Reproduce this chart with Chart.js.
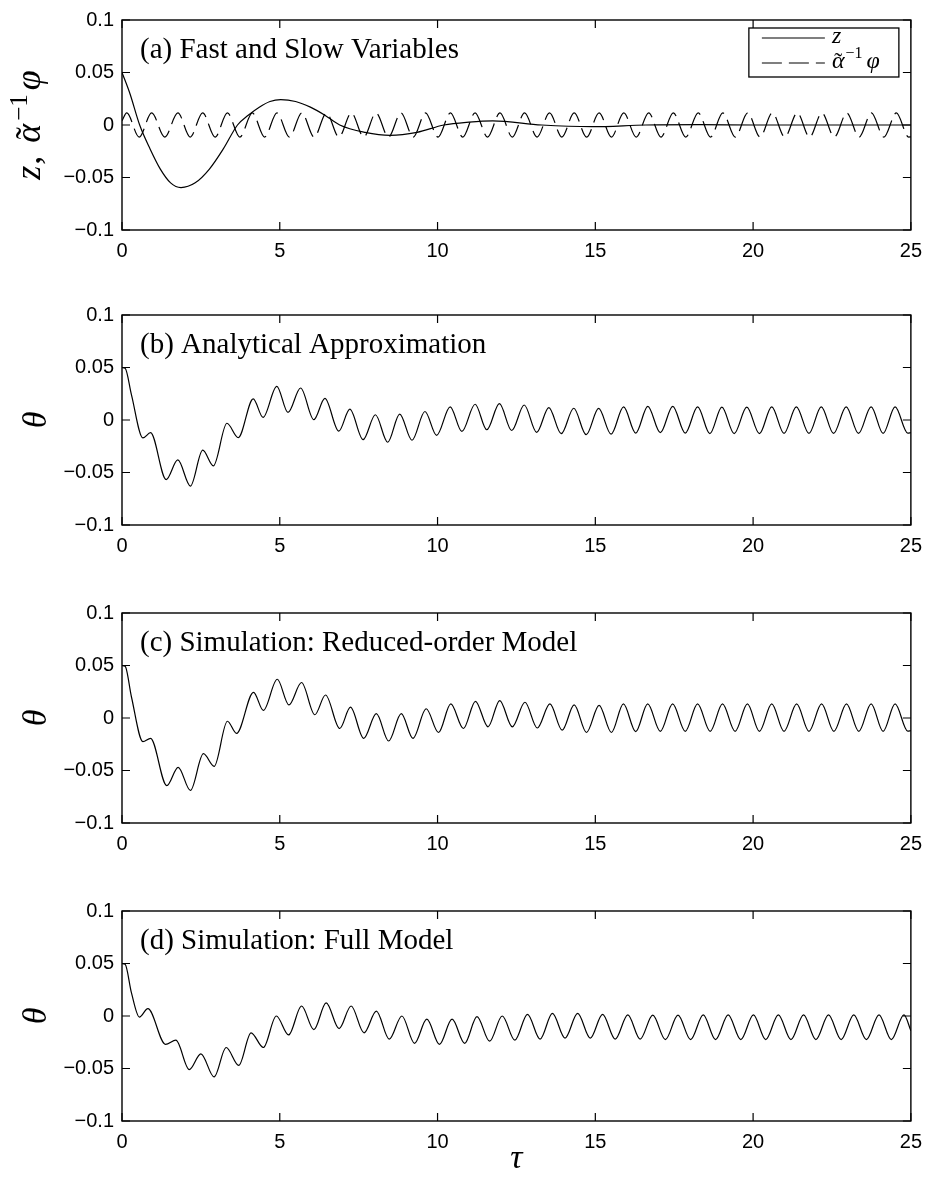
<!DOCTYPE html>
<html>
<head>
<meta charset="utf-8">
<title>Fast and slow variables</title>
<script src="https://cdn.jsdelivr.net/npm/chart.js@4.4.1/dist/chart.umd.min.js"></script>
<style>
  html, body { margin: 0; padding: 0; background: #fff; }
  #fig { position: relative; width: 931px; height: 1179px; overflow: hidden; }
  #fig canvas { position: absolute; left: 0; }
</style>
</head>
<body>
<div id="fig">
  <canvas id="panelA" width="931" height="290" style="top:0px"></canvas>
  <canvas id="panelB" width="931" height="290" style="top:295px"></canvas>
  <canvas id="panelC" width="931" height="290" style="top:593px"></canvas>
  <canvas id="panelD" width="931" height="288" style="top:891px"></canvas>
</div>
<script>
// axes
const xTicks = [0, 5, 10, 15, 20, 25];
const yTicks = [-0.1, -0.05, 0, 0.05, 0.1];
const yTickLabels = ['\u22120.1', '\u22120.05', '0', '0.05', '0.1'];
const panelTitles = [
    '(a) Fast and Slow Variables',
    '(b) Analytical Approximation',
    '(c) Simulation: Reduced-order Model',
    '(d) Simulation: Full Model'
];

// (a) slow variable z  [tau, value]
const slowZ = [
    [0, 0.05], [0.25, 0.03], [0.56, 0], [0.89, -0.0228], [1.215, -0.042], [1.54, -0.0551],
    [1.87, -0.0596], [2.32, -0.0551], [2.77, -0.042], [3.21, -0.0228], [3.66, 0],
    [4.0, 0.0093], [4.35, 0.017], [4.69, 0.0224], [5.03, 0.0242], [5.5, 0.0224],
    [5.97, 0.017], [6.43, 0.0093], [6.9, 0], [7.7, -0.007], [8.5, -0.0099], [9.35, -0.007],
    [10.2, 0], [11.0, 0.0028], [11.75, 0.004], [13.3, 0], [14.9, -0.0016], [16.6, 0],
    [18.3, 0.0004], [20, 0], [25, 0]
];

// (a) fast variable, scaled  [tau, value] (peaks and troughs)
const fastPhi = [
    [0, 0.004],
    [0.15, 0.0115], [0.545, -0.0115], [0.94, 0.0115], [1.355, -0.0115],
    [1.77, 0.0115], [2.16, -0.0115], [2.555, 0.0115], [2.95, -0.0115],
    [3.34, 0.0115], [3.735, -0.0115], [4.13, 0.0115], [4.52, -0.0115],
    [4.91, 0.0115], [5.305, -0.0115], [5.70, 0.0115], [6.09, -0.0115],
    [6.48, 0.0115], [6.875, -0.0115], [7.27, 0.0115], [7.66, -0.0115],
    [8.05, 0.0115], [8.445, -0.0115], [8.84, 0.0115], [9.23, -0.0115],
    [9.62, 0.0115], [10.015, -0.0115], [10.41, 0.0115], [10.8, -0.0115],
    [11.19, 0.0115], [11.585, -0.0115], [11.98, 0.0115], [12.37, -0.0115],
    [12.76, 0.0115], [13.155, -0.0115], [13.55, 0.0115], [13.94, -0.0115],
    [14.33, 0.0115], [14.725, -0.0115], [15.12, 0.0115], [15.51, -0.0115],
    [15.90, 0.0115], [16.295, -0.0115], [16.69, 0.0115], [17.08, -0.0115],
    [17.47, 0.0115], [17.865, -0.0115], [18.26, 0.0115], [18.65, -0.0115],
    [19.04, 0.0115], [19.435, -0.0115], [19.83, 0.0115], [20.22, -0.0115],
    [20.61, 0.0115], [21.005, -0.0115], [21.40, 0.0115], [21.79, -0.0115],
    [22.18, 0.0115], [22.575, -0.0115], [22.97, 0.0115], [23.36, -0.0115],
    [23.75, 0.0115], [24.145, -0.0115], [24.54, 0.0115], [24.93, -0.0115],
    [25, -0.0113]
];

// (b) analytical approximation of theta
const thetaAnalytical = [
    [0, 0.05], [0.1, 0.0493], [0.3, 0.024], [0.663, -0.0171], [0.905, -0.0121],
    [1.4, -0.0567], [1.768, -0.038], [2.168, -0.0629], [2.558, -0.0287], [2.895, -0.0436],
    [3.326, -0.0031], [3.684, -0.0168], [4.158, 0.0202], [4.47, 0.0025], [4.905, 0.0321],
    [5.26, 0.0072], [5.66, 0.0305], [6.08, 0.0003], [6.43, 0.0206], [6.87, -0.0106],
    [7.22, 0.0103], [7.64, -0.0187], [8.03, 0.005], [8.42, -0.0212], [8.8, 0.0056],
    [9.19, -0.0193], [9.6, 0.0081], [9.97, -0.0146], [10.4, 0.0125], [10.77, -0.0109],
    [11.19, 0.015], [11.56, -0.0093], [11.96, 0.0156], [12.35, -0.01], [12.747, 0.0143],
    [13.14, -0.0118], [13.526, 0.0118], [13.92, -0.013], [14.316, 0.0112], [14.71, -0.014],
    [15.105, 0.011], [15.5, -0.0135], [15.895, 0.0125], [16.28, -0.0125], [16.663, 0.013],
    [17.06, -0.012], [17.453, 0.013], [17.85, -0.0125], [18.242, 0.0125], [18.63, -0.013],
    [19.01, 0.0122], [19.4, -0.013], [19.8, 0.0122], [20.2, -0.013], [20.59, 0.0125],
    [20.98, -0.0128], [21.37, 0.0125], [21.77, -0.0128], [22.16, 0.0125], [22.55, -0.0128],
    [22.95, 0.0125], [23.34, -0.0128], [23.74, 0.0125], [24.12, -0.0128], [24.5, 0.0125],
    [24.9, -0.0125], [25, -0.012]
];

// (c) reduced-order model simulation
const thetaReduced = [
    [0, 0.05], [0.1, 0.0492], [0.3, 0.02], [0.663, -0.0225], [0.905, -0.0194],
    [1.42, -0.0644], [1.78, -0.047], [2.168, -0.069], [2.58, -0.034], [2.92, -0.046],
    [3.34, -0.0031], [3.63, -0.0147], [4.168, 0.0244], [4.48, 0.0072], [4.92, 0.0369],
    [5.29, 0.0125], [5.69, 0.0338], [6.11, 0.0031], [6.45, 0.0219], [6.9, -0.01],
    [7.24, 0.0103], [7.66, -0.0194], [8.06, 0.0041], [8.45, -0.0219], [8.85, 0.0041],
    [9.22, -0.0194], [9.64, 0.0088], [10.03, -0.0138], [10.42, 0.0134], [10.82, -0.01],
    [11.2, 0.0159], [11.6, -0.0084], [11.97, 0.0166], [12.37, -0.0084], [12.77, 0.015],
    [13.16, -0.0095], [13.56, 0.0134], [13.95, -0.0116], [14.33, 0.0125], [14.72, -0.0138],
    [15.12, 0.012], [15.51, -0.0138], [15.89, 0.0134], [16.28, -0.013], [16.66, 0.0134],
    [17.06, -0.0128], [17.45, 0.0134], [17.85, -0.0128], [18.24, 0.0134], [18.64, -0.0128],
    [19.03, 0.0134], [19.43, -0.0128], [19.82, 0.0134], [20.2, -0.0128], [20.59, 0.0134],
    [20.98, -0.0128], [21.38, 0.0134], [21.77, -0.0128], [22.17, 0.0134], [22.56, -0.0128],
    [22.96, 0.0134], [23.35, -0.0128], [23.74, 0.0134], [24.12, -0.0128], [24.5, 0.0134],
    [24.9, -0.0125], [25, -0.012]
];

// (d) full model simulation
const thetaFull = [
    [0, 0.05], [0.1, 0.0492], [0.3, 0.022], [0.55, -0.001], [0.82, 0.007],
    [1.38, -0.027], [1.71, -0.023], [2.13, -0.051], [2.5, -0.036], [2.92, -0.058],
    [3.3, -0.03], [3.7, -0.047], [4.09, -0.016], [4.48, -0.03], [4.89, 0.0],
    [5.28, -0.018], [5.69, 0.0095], [6.08, -0.013], [6.47, 0.0125], [6.88, -0.012],
    [7.26, 0.0095], [7.67, -0.016], [8.06, 0.0047], [8.47, -0.022], [8.87, 0.0],
    [9.27, -0.026], [9.66, -0.003], [10.06, -0.027], [10.46, -0.003], [10.86, -0.026],
    [11.25, -0.0006], [11.65, -0.024], [12.05, 0.0], [12.45, -0.023], [12.85, 0.0016],
    [13.25, -0.022], [13.64, 0.0025], [14.04, -0.021], [14.44, 0.0025], [14.84, -0.021],
    [15.23, 0.0016], [15.63, -0.022], [16.03, 0.001], [16.42, -0.022], [16.82, 0.0008],
    [17.22, -0.0225], [17.62, 0.0008], [18.02, -0.0225], [18.42, 0.001], [18.81, -0.0225],
    [19.21, 0.001], [19.61, -0.0225], [20.01, 0.001], [20.4, -0.0225], [20.8, 0.001],
    [21.2, -0.0225], [21.6, 0.001], [21.99, -0.0225], [22.39, 0.001], [22.79, -0.0225],
    [23.19, 0.001], [23.59, -0.0225], [23.99, 0.001], [24.38, -0.0225], [24.78, 0.001],
    [25, -0.014]
];

const SERIF = '"Liberation Serif", "Times New Roman", serif';
Chart.defaults.font.family = '"Liberation Sans", Arial, sans-serif';
Chart.defaults.color = '#000';

function toPoints(pairs) {
    return pairs.map(p => ({ x: p[0], y: p[1] }));
}

// draws a row of text pieces (mixed fonts, superscripts, accents) starting at x
function drawPieces(ctx, pieces, x, y) {
    pieces.forEach(p => {
        ctx.font = p.font;
        const w = ctx.measureText(p.text).width;
        ctx.fillText(p.text, x, y + (p.dy || 0));
        if (p.accent) {
            ctx.save();
            ctx.font = p.accentFont;
            ctx.textAlign = 'center';
            ctx.fillText(p.accent, x + w / 2 + (p.accentDx || 0), y + (p.accentDy || 0));
            ctx.restore();
        }
        x += w + (p.gap || 0);
    });
    return x;
}

function piecesWidth(ctx, pieces) {
    let w = 0;
    pieces.forEach(p => { ctx.font = p.font; w += ctx.measureText(p.text).width + (p.gap || 0); });
    return w;
}

const frame = {
    id: 'frame',
    afterDatasetsDraw(chart, args, opts) {
        const { ctx, chartArea: a, scales: { x, y } } = chart;
        ctx.save();
        ctx.strokeStyle = '#000';
        ctx.setLineDash([]);

        // inward ticks on all four sides
        ctx.lineWidth = 1.2;
        ctx.beginPath();
        x.ticks.forEach(t => {
            const px = x.getPixelForValue(t.value);
            ctx.moveTo(px, a.bottom); ctx.lineTo(px, a.bottom - 8);
            ctx.moveTo(px, a.top); ctx.lineTo(px, a.top + 8);
        });
        y.ticks.forEach(t => {
            const py = y.getPixelForValue(t.value);
            ctx.moveTo(a.left, py); ctx.lineTo(a.left + 8, py);
            ctx.moveTo(a.right, py); ctx.lineTo(a.right - 8, py);
        });
        ctx.stroke();

        ctx.lineWidth = 1.4;
        ctx.strokeRect(a.left, a.top, a.right - a.left, a.bottom - a.top);

        // panel caption inside the axes
        ctx.fillStyle = '#000';
        ctx.textAlign = 'left';
        ctx.textBaseline = 'alphabetic';
        ctx.font = '29px ' + SERIF;
        ctx.fillText(opts.title, a.left + 18, a.top + 38);

        if (opts.legend) {
            const bx = a.right - 162, by = a.top + 8, bw = 150, bh = 49;
            ctx.fillStyle = '#fff';
            ctx.fillRect(bx, by, bw, bh);
            ctx.lineWidth = 1.3;
            ctx.strokeRect(bx, by, bw, bh);
            ctx.fillStyle = '#000';
            chart.data.datasets.forEach((ds, i) => {
                const ly = by + 10 + i * 25;
                ctx.lineWidth = ds.borderWidth;
                ctx.setLineDash(ds.borderDash || []);
                ctx.beginPath();
                ctx.moveTo(bx + 13, ly);
                ctx.lineTo(bx + 76, ly);
                ctx.stroke();
                ctx.setLineDash([]);
                drawPieces(ctx, opts.legend[i], bx + 83, ly + 5);
            });
        }

        if (opts.yLabel) {
            const cy = (a.top + a.bottom) / 2;
            const w = piecesWidth(ctx, opts.yLabel);
            ctx.translate(40, cy);
            ctx.rotate(-Math.PI / 2);
            drawPieces(ctx, opts.yLabel, -w / 2, 0);
        }
        ctx.restore();
    }
};

function makePanel(canvasId, datasets, title, extra) {
    const canvas = document.getElementById(canvasId);
    const xHeight = canvas.height - 15 - 215;
    return new Chart(canvas, {
        type: 'line',
        data: { datasets },
        plugins: [frame],
        options: {
            responsive: false,
            animation: false,
            devicePixelRatio: 1,
            layout: { padding: { top: 15, right: 17, left: 0, bottom: 0 } },
            elements: { point: { radius: 0 } },
            plugins: {
                legend: { display: false },
                tooltip: { enabled: false },
                frame: Object.assign({ title }, extra.frame)
            },
            scales: {
                x: {
                    type: 'linear',
                    min: 0,
                    max: 25,
                    afterBuildTicks: s => { s.ticks = xTicks.map(v => ({ value: v })); },
                    afterFit: s => { s.height = xHeight; },
                    grid: { display: false, drawTicks: false },
                    border: { display: false },
                    ticks: { font: { size: 20 }, color: '#000', padding: 9, maxRotation: 0 },
                    title: extra.xTitle || { display: false }
                },
                y: {
                    type: 'linear',
                    min: -0.1,
                    max: 0.1,
                    afterBuildTicks: s => { s.ticks = yTicks.map(v => ({ value: v })); },
                    afterFit: s => { s.width = 122; },
                    grid: { display: false, drawTicks: false },
                    border: { display: false },
                    ticks: {
                        font: { size: 20 },
                        color: '#000',
                        padding: 8,
                        callback: (v, i) => yTickLabels[i]
                    },
                    title: extra.yTitle || { display: false }
                }
            }
        }
    });
}

function lineSet(label, pairs, dash) {
    return {
        label,
        data: toPoints(pairs),
        borderColor: '#000',
        borderWidth: 1.2,
        borderDash: dash || [],
        pointRadius: 0,
        fill: false,
        cubicInterpolationMode: 'monotone'
    };
}

const thetaTitle = {
    display: true,
    text: '\u03B8',
    color: '#000',
    font: { family: SERIF, size: 34, style: 'italic' },
    padding: { top: 17, bottom: 0 }
};

const italic36 = 'italic 36px ' + SERIF;
const italic24 = 'italic 24px ' + SERIF;

makePanel('panelA', [
    lineSet('z', slowZ),
    lineSet('\u03B1\u0303\u207B\u00B9\u03C6', fastPhi, [20, 7])
], panelTitles[0], {
    frame: {
        legend: [
            [{ text: 'z', font: italic24 }],
            [
                { text: '\u03B1', font: italic24, gap: 1, accent: '\u02DC', accentFont: '24px ' + SERIF, accentDy: 1 },
                { text: '\u22121', font: '16px ' + SERIF, dy: -10, gap: 4 },
                { text: '\u03C6', font: italic24 }
            ]
        ],
        yLabel: [
            { text: 'z', font: italic36, gap: 1 },
            { text: ',', font: '36px ' + SERIF, gap: 13 },
            { text: '\u03B1', font: italic36, gap: 3, accent: '\u02DC', accentFont: '36px ' + SERIF, accentDy: 1 },
            { text: '\u22121', font: '25px ' + SERIF, dy: -13, gap: 4 },
            { text: '\u03C6', font: italic36 }
        ]
    }
});

makePanel('panelB', [lineSet('theta', thetaAnalytical)], panelTitles[1], { yTitle: thetaTitle });
makePanel('panelC', [lineSet('theta', thetaReduced)], panelTitles[2], { yTitle: thetaTitle });
makePanel('panelD', [lineSet('theta', thetaFull)], panelTitles[3], {
    yTitle: thetaTitle,
    xTitle: {
        display: true,
        text: '\u03C4',
        color: '#000',
        font: { family: SERIF, size: 34, style: 'italic' },
        padding: { top: 0, bottom: 0 }
    }
});
</script>
</body>
</html>
